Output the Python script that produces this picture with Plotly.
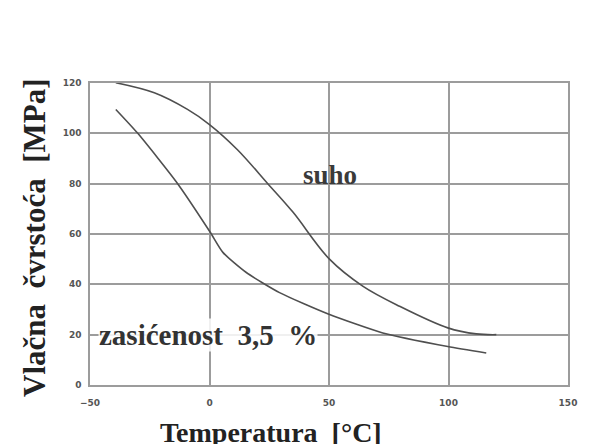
import plotly.graph_objects as go

# Data
temp_dry = [-39.2, -23.1, -9.2, 0, 11.7, 24.3, 34.9, 50.2, 64.1, 79.5, 99.7, 111.6, 120]
strength_dry = [120.1, 116.1, 109.5, 103.5, 93.5, 80.1, 68.7, 50, 39.3, 31.3, 22.7, 20.3, 20]

temp_sat = [-39.2, -30.1, -13.4, 0.3, 5.6, 15.4, 29.3, 49.7, 72.5, 99.7, 115.8]
strength_sat = [109.5, 100.1, 80.1, 60.7, 52.7, 44.7, 36.7, 28.2, 20.7, 15.3, 12.7]

x_ticks = [-50, 0, 50, 100, 150]
y_ticks = [0, 20, 40, 60, 80, 100, 120]

line_color = "#4f4f4f"
grid_color = "#9c9c9c"
serif = "Liberation Serif, DejaVu Serif, serif"

fig = go.Figure()
fig.add_trace(go.Scatter(x=temp_dry, y=strength_dry, mode="lines",
                         line=dict(color=line_color, width=1.6, shape="spline", smoothing=1.0),
                         name="suho", showlegend=False))
fig.add_trace(go.Scatter(x=temp_sat, y=strength_sat, mode="lines",
                         line=dict(color=line_color, width=1.6, shape="spline", smoothing=0.6),
                         name="zasićenost 3,5 %", showlegend=False))

fig.add_annotation(x=50.6, y=83.5, text="<b>suho</b>", showarrow=False,
                   font=dict(family=serif, size=27, color="#3a3a3a"))
fig.add_annotation(x=-46.5, y=20, text="<b>zasićenost  3,5  %</b>", showarrow=False,
                   xanchor="left", bgcolor="rgba(255,255,255,0.85)", borderpad=0,
                   font=dict(family=serif, size=29, color="#333333"))

# page body has an 8 px margin: figure pixel = window pixel - 8
W, H = 595, 444
L, R, T, B = 82, 35, 75, 67
pw, ph = W - L - R, H - T - B

def px_to_paper(wx, wy):
    fx, fy = wx - 8, wy - 8
    return (fx - L) / pw, (H - B - fy) / ph

tx, ty = px_to_paper(271, 415)
fig.add_annotation(x=tx, y=ty, xref="paper", yref="paper", text="<b>Temperatura  [°C]</b>",
                   showarrow=False, xanchor="center", yanchor="top",
                   font=dict(family=serif, size=28, color="#222222"))
yx, yy = px_to_paper(34, 238)
fig.add_annotation(x=yx, y=yy, xref="paper", yref="paper", text="<b>Vlačna  čvrstoća  [MPa]</b>",
                   showarrow=False, textangle=-90, xanchor="center", yanchor="middle",
                   font=dict(family=serif, size=31, color="#222222"))

tick_font = dict(family="DejaVu Sans", size=9, color="#555555", weight="bold")
fig.update_layout(
    width=W, height=H,
    margin=dict(l=L, r=R, t=T, b=B),
    paper_bgcolor="white", plot_bgcolor="white",
    xaxis=dict(range=[-50, 150], tickvals=x_ticks, ticktext=["−50", "0", "50", "100", "150"],
               showgrid=True, gridcolor=grid_color, gridwidth=1.5,
               showline=True, linecolor=grid_color, linewidth=1.5, mirror=True,
               zeroline=False, ticks="", ticklabelstandoff=8, tickfont=tick_font),
    yaxis=dict(range=[0, 120], tickvals=y_ticks,
               showgrid=True, gridcolor=grid_color, gridwidth=1.5,
               showline=True, linecolor=grid_color, linewidth=1.5, mirror=True,
               zeroline=False, ticks="", ticklabelstandoff=5, tickfont=tick_font),
)

fig.write_html("out.html")
